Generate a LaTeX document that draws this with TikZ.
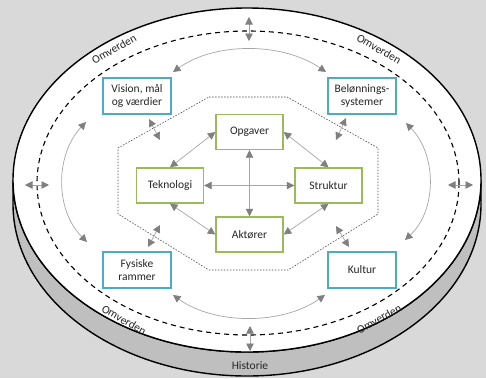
\documentclass[tikz,border=0pt]{standalone}
\usepackage{fontspec}
\setmainfont{Carlito}
\usetikzlibrary{arrows.meta}
\definecolor{bggray}{HTML}{D9D9D9}
\definecolor{sidegray}{HTML}{BFBFBF}
\definecolor{boxblue}{HTML}{4BACC6}
\definecolor{boxgreen}{HTML}{9BBB59}
\definecolor{linegray}{HTML}{A6A6A6}
\definecolor{tipgray}{HTML}{808080}
\definecolor{txtgray}{HTML}{262626}

\begin{document}
\begin{tikzpicture}[x=1pt,y=-1pt,
  lbl/.style={font=\fontsize{11.5}{13.5}\selectfont, text=txtgray},
  bluebox/.style={lbl, draw=boxblue, fill=white, line width=1.4pt, align=center,
    minimum width=68pt, minimum height=36pt, inner sep=0pt},
  greenbox/.style={lbl, draw=boxgreen, fill=white, line width=1.4pt, align=center,
    minimum width=67pt, minimum height=35pt, inner sep=0pt},
  link/.style={draw=linegray, line width=0.7pt,
    arrows={Triangle[length=7.5pt,width=7.5pt,color=tipgray]-Triangle[length=7.5pt,width=7.5pt,color=tipgray]}},
  envtext/.style={lbl, inner sep=0pt}
]
% background
\fill[bggray] (0,0) rectangle (486,378);
\useasboundingbox (0,0) rectangle (486,378);

% disc: side band and top face
\filldraw[fill=sidegray, draw=black, line width=1.4pt]
  (13,180) -- (13,204) arc[start angle=180, end angle=0, x radius=234, y radius=172]
  -- (481,180) arc[start angle=0, end angle=180, x radius=234, y radius=172] -- cycle;
\filldraw[fill=white, draw=black, line width=1.4pt] (247,180) ellipse[x radius=234, y radius=172];
\node[envtext] (hist) at (250,366) {Historie};

% environment boundary
\draw[black, line width=1.1pt, dash pattern=on 5pt off 4pt] (248,183) ellipse[x radius=211, y radius=152];
\node[envtext, rotate=30]  (env1) at (114,49)  {Omverden};
\node[envtext, rotate=-30] (env2) at (379,49)  {Omverden};
\node[envtext, rotate=-30] (env3) at (124,320) {Omverden};
\node[envtext, rotate=30]  (env4) at (379,319) {Omverden};

% inner organisation boundary
\draw[black!70, line width=0.6pt, dash pattern=on 1.5pt off 1.5pt]
  (209,97) -- (287,97) -- (378,148) -- (378,214) -- (288,270) -- (209,270)
  -- (118,214) -- (118,148) -- cycle;

% outer boxes
\node[bluebox] (vis) at (137,96)  {Vision, mål\\og værdier};
\node[bluebox] (bel) at (362,96)  {Belønnings-\\systemer};
\node[bluebox] (fys) at (137,270) {Fysiske\\rammer};
\node[bluebox] (kul) at (362,270) {Kultur};

% inner boxes
\node[greenbox] (opg) at (249.5,132)   {Opgaver};
\node[greenbox] (tek) at (170,185.5)   {Teknologi};
\node[greenbox] (str) at (328.5,185.5) {Struktur};
\node[greenbox] (akt) at (249.5,234.5) {Aktører};

% links between inner boxes
\draw[link] (opg.west)  -- (tek.north);
\draw[link] (opg.east)  -- (str.north);
\draw[link] (tek.south) -- (akt.west);
\draw[link] (str.south) -- (akt.east);
\draw[link] (opg.south) -- (akt.north);
\draw[link] (tek.east)  -- (str.west);

% short links across the inner boundary
\coordinate (va) at (149,119); \coordinate (vb) at (160,140);
\coordinate (ba) at (346,118); \coordinate (bb) at (336,140);
\coordinate (fa) at (160,225); \coordinate (fb) at (148,247);
\coordinate (ka) at (336,226); \coordinate (kb) at (349,247);
\draw[link] (va) -- (vb);
\draw[link] (ba) -- (bb);
\draw[link] (fa) -- (fb);
\draw[link] (ka) -- (kb);

% curved links between outer boxes
\coordinate (t1) at (173,72);  \coordinate (t2) at (326,72);
\coordinate (l1) at (86,122);  \coordinate (l2) at (87,242);
\coordinate (r1) at (406,123); \coordinate (r2) at (405,240);
\coordinate (b1) at (173,295); \coordinate (b2) at (325,295);
\draw[link] (t1) .. controls (215,42) and (282,42) .. (t2);
\draw[link] (l1) .. controls (55,155) and (55,210) .. (l2);
\draw[link] (r1) .. controls (437,155) and (437,210) .. (r2);
\draw[link] (b1) .. controls (215,325) and (282,325) .. (b2);

% links across the environment boundary
\coordinate (o1) at (249,17);  \coordinate (o2) at (249,41);
\coordinate (o3) at (250,326); \coordinate (o4) at (250,351);
\coordinate (o5) at (25,185);  \coordinate (o6) at (49,185);
\coordinate (o7) at (448,185); \coordinate (o8) at (473,185);
\draw[link] (o1) -- (o2);
\draw[link] (o3) -- (o4);
\draw[link] (o5) -- (o6);
\draw[link] (o7) -- (o8);
\end{tikzpicture}
\end{document}
